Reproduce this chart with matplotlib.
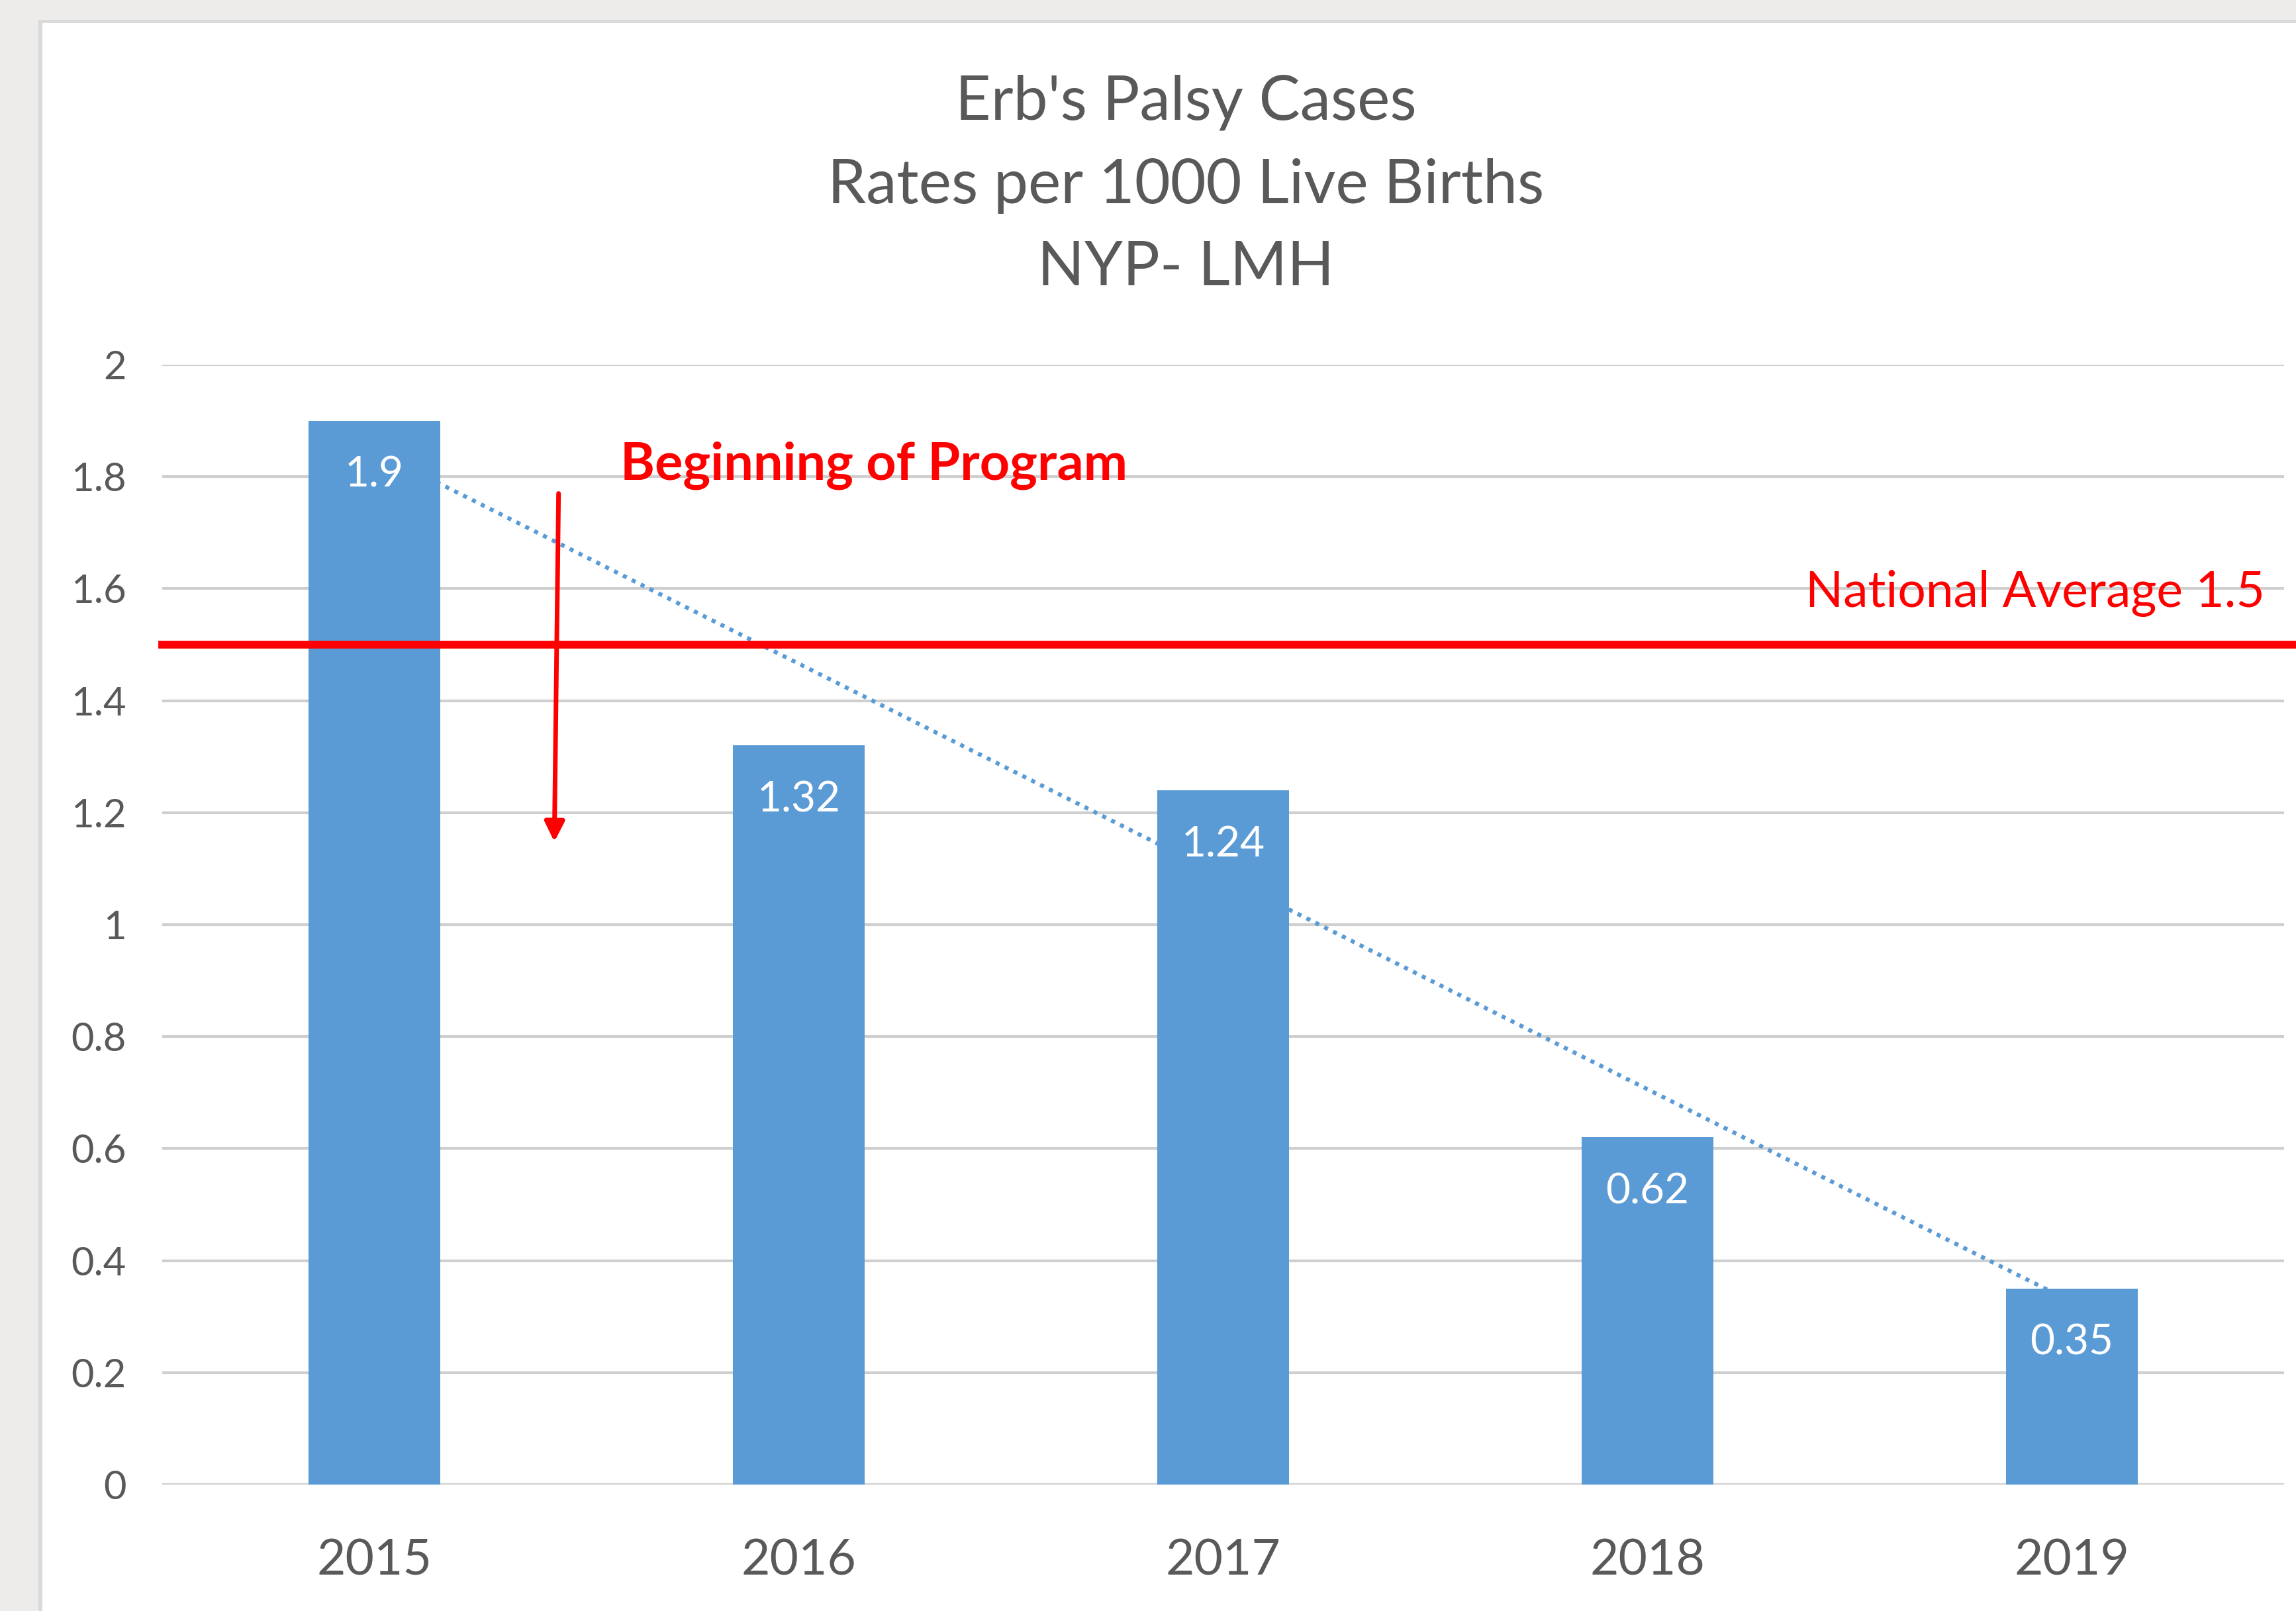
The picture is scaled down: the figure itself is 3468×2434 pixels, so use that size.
import matplotlib.pyplot as plt
import numpy as np
from matplotlib.patches import Rectangle

# Erb's palsy rates per 1000 live births, NYP-LMH
years = ['2015', '2016', '2017', '2018', '2019']
rates = [1.9, 1.32, 1.24, 0.62, 0.35]
national_avg = 1.5
yticks = [0, 0.2, 0.4, 0.6, 0.8, 1, 1.2, 1.4, 1.6, 1.8, 2]
title_lines = ["Erb's Palsy Cases", "Rates per 1000 Live Births", "NYP- LMH"]

plt.rcParams['font.family'] = ['Lato', 'DejaVu Sans']

W, H = 3468, 2434
fig = plt.figure(figsize=(W / 100, H / 100), dpi=100, facecolor='#EDECEA')

# chart panel: thin grey frame, white inside
fig.patches.append(Rectangle((58 / W, 0), 1, 1 - 30 / H, transform=fig.transFigure,
                             facecolor='#DADADA', edgecolor='none', zorder=-2))
fig.patches.append(Rectangle((64 / W, 0), 1, 1 - 35 / H, transform=fig.transFigure,
                             facecolor='white', edgecolor='none', zorder=-1))

ax = fig.add_axes([245 / W, 1 - 2243 / H, (3450 - 245) / W, (2243 - 551) / H])
ax.set_zorder(1)
ax.set_facecolor('none')

x = np.arange(len(years))
ax.bar(x, rates, width=0.31, color='#5B9BD5', zorder=2)

# linear trendline (behind the bars)
coef = np.polyfit(x, rates, 1)
xt = np.array([0, x[-1]])
ax.plot(xt, np.polyval(coef, xt), color='#5B9BD5', lw=4.5,
        ls=(0, (1, 1.4)), zorder=1.5)

for i, v in enumerate(rates):
    ax.text(i, v - 0.097, f'{v:g}', ha='center', va='center',
            color='white', fontsize=46, zorder=4)

# national average reference line
ax.axhline(national_avg, xmin=0, xmax=1.01, color='#FF0000', lw=8.5,
           clip_on=False, zorder=3)
ax.text(4.455, 1.592, f'National Average {national_avg}', ha='right', va='center',
        color='#FF0000', fontsize=54)

ax.text(0.58, 1.82, 'Beginning of Program', ha='left', va='center',
        color='#FF0000', fontsize=57, fontweight='bold')
ax.annotate('', xy=(0.424, 1.148), xytext=(0.434, 1.77),
            arrowprops=dict(arrowstyle='-|>', color='#FF0000', lw=5,
                            mutation_scale=45, shrinkA=0, shrinkB=0),
            zorder=5)

ax.set_xlim(-0.5, 4.5)
ax.set_ylim(0, 2)
ax.set_xticks(x)
ax.set_xticklabels(years)
ax.set_yticks(yticks)
ax.set_yticklabels([f'{v:g}' for v in yticks])
ax.yaxis.grid(True, color='#CFCFCF', lw=3)
ax.set_axisbelow(True)
for s in ax.spines.values():
    s.set_visible(False)
ax.tick_params(length=0, colors='#595959')
ax.tick_params(axis='x', labelsize=54, pad=58)
ax.tick_params(axis='y', labelsize=43, pad=39)

for line, ty in zip(title_lines, [155, 281, 405]):
    fig.text(1791 / W, 1 - ty / H, line, ha='center', va='center',
             color='#595959', fontsize=67)

fig.savefig('out.png', dpi=100, facecolor=fig.get_facecolor())
